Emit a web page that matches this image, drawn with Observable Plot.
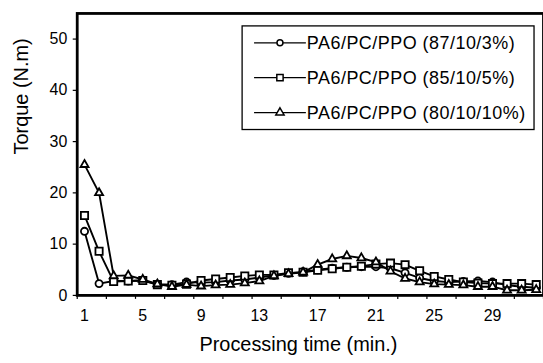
<!DOCTYPE html>
<html>
<head>
<meta charset="utf-8">
<script src="https://cdn.jsdelivr.net/npm/d3@7"></script>
<script src="https://cdn.jsdelivr.net/npm/@observablehq/plot@0.6"></script>
<style>
  html, body { margin: 0; padding: 0; background: white; overflow: hidden; }
  #chart { position: relative; width: 543px; height: 363px; overflow: hidden; }
</style>
</head>
<body>
<div id="chart"></div>
<script>
// Processing time categories (min.)
const minutes = [1,2,3,4,5,6,7,8,9,10,11,12,13,14,15,16,17,18,19,20,21,22,23,24,25,26,27,28,29,30,31,32];

// Torque (N.m)
const torque87 = [12.5,2.3,2.8,2.8,2.9,2.2,2.1,2.6,2.5,2.6,2.9,3.1,3.5,3.9,4.3,4.6,5.0,5.3,5.5,5.6,5.6,5.3,4.4,3.4,2.8,2.6,2.7,2.8,2.6,2.0,1.7,1.5];
const torque85 = [15.6,8.6,2.7,2.8,2.9,2.1,2.0,2.2,2.9,3.2,3.5,3.8,4.0,4.0,4.4,4.5,4.9,5.2,5.5,5.7,6.1,6.3,6.0,4.8,3.7,3.1,2.6,2.4,2.3,2.3,2.3,2.1];
const torque80 = [25.5,20.0,3.8,3.9,3.1,2.2,1.7,2.1,1.8,2.0,2.1,2.4,2.8,3.8,4.2,4.5,6.0,7.1,7.7,7.3,6.5,4.7,3.3,2.6,2.2,2.1,2.0,1.7,1.7,1.0,1.0,1.1];

const seriesNames = ["PA6/PC/PPO (87/10/3%)", "PA6/PC/PPO (85/10/5%)", "PA6/PC/PPO (80/10/10%)"];
const seriesSymbols = ["circle", "square", "triangle"];
const yTicks = [0, 10, 20, 30, 40, 50];
const xTickLabels = [1, 5, 9, 13, 17, 21, 25, 29];

const seriesValues = [torque87, torque85, torque80];
const markerR = {circle: 3.6, square: 4.1, triangle: 3.0};

const rows = [];
seriesValues.forEach((vals, s) => vals.forEach((v, i) => rows.push({minute: minutes[i], torque: v, series: seriesNames[s], symbol: seriesSymbols[s]})));

// category boundaries (tick marks every second category, like the original)
const boundaryTicks = minutes.filter(m => m % 2 === 1).map(m => m - 0.5).concat([minutes[minutes.length - 1] + 0.5]);

const marks = [];
seriesNames.forEach((name, s) => {
  const data = rows.filter(d => d.series === name);
  marks.push(Plot.line(data, {x: "minute", y: "torque", stroke: "black", strokeWidth: 1.9}));
  marks.push(Plot.dot(data, {x: "minute", y: "torque", symbol: () => seriesSymbols[s], r: markerR[seriesSymbols[s]], fill: "white", stroke: "black", strokeWidth: 1.8}));
});

const svg = Plot.plot({
  width: 545,
  height: 363,
  marginLeft: 77,
  marginRight: 0,
  marginTop: 13,
  marginBottom: 67,
  style: {fontFamily: "'Liberation Sans', Arial, sans-serif", color: "black", background: "white"},
  x: {type: "linear", domain: [minutes[0] - 0.5, minutes[minutes.length - 1] + 0.5]},
  y: {domain: [0, 55]},
  symbol: {domain: seriesSymbols, range: seriesSymbols},
  marks: [
    Plot.axisY({ticks: yTicks, tickSize: 4, tickPadding: 6, fontSize: 16, label: null, strokeWidth: 1.2}),
    Plot.axisX({ticks: boundaryTicks, tickSize: 4, tickFormat: () => "", label: null, strokeWidth: 1.2}),
    Plot.axisX({ticks: xTickLabels, tickSize: 0, tickPadding: 14, fontSize: 16, label: null}),
    ...marks,
    Plot.frame({stroke: "black", strokeWidth: 2.8}),
    Plot.text(["Torque (N.m)"], {frameAnchor: "left", rotate: -90, dx: -56, fontSize: 20, fill: "black"}),
    Plot.text(["Processing time (min.)"], {frameAnchor: "bottom", dx: -12, dy: 56, fontSize: 20, fill: "black"})
  ]
});

// Legend box inside the plot area
const lg = d3.select(svg).append("g").attr("transform", "translate(243,26)").attr("text-anchor", "start");
lg.append("rect").attr("x", 0).attr("y", 0).attr("width", 293).attr("height", 104)
  .attr("fill", "white").attr("stroke", "black").attr("stroke-width", 1.3);
const legendSym = {circle: d3.symbolCircle, square: d3.symbolSquare, triangle: d3.symbolTriangle};
const legendSize = {circle: 28, square: 40, triangle: 30};
seriesNames.forEach((name, i) => {
  const yy = 17 + i * 35;
  const g = lg.append("g").attr("transform", `translate(0,${yy})`);
  g.append("line").attr("x1", 12).attr("x2", 64).attr("y1", 0).attr("y2", 0).attr("stroke", "black").attr("stroke-width", 1.3);
  g.append("path").attr("transform", "translate(38,0)")
    .attr("d", d3.symbol(legendSym[seriesSymbols[i]], legendSize[seriesSymbols[i]])())
    .attr("fill", "white").attr("stroke", "black").attr("stroke-width", 1.5);
  g.append("text").attr("x", 65).attr("y", 0).attr("dy", "0.35em")
    .attr("text-anchor", "start")
    .attr("font-size", 18).attr("letter-spacing", "0.5px").attr("fill", "black").text(name);
});

document.getElementById("chart").appendChild(svg);
</script>
</body>
</html>
